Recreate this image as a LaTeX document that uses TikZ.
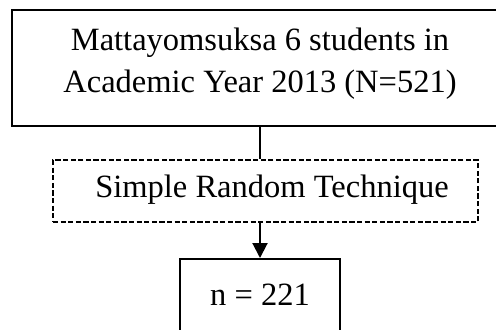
\documentclass[tikz,border=0pt]{standalone}
\usepackage{fontspec}
\setmainfont{Liberation Serif}
\usetikzlibrary{arrows.meta}

\tikzset{
  stagebox/.style={draw, line width=1pt, inner sep=0pt, align=center,
    font=\fontsize{16.25}{21}\selectfont},
  methodbox/.style={stagebox, dash pattern=on 2.6pt off 1.2pt, line width=0.9pt},
}

\begin{document}
\begin{tikzpicture}[x=0.5pt, y=-0.5pt]
  \useasboundingbox (0,0) rectangle (496,329);
  \clip (0,0) rectangle (496,329);
  % population
  \node[stagebox, minimum width=248pt, minimum height=58pt, text depth=8pt] (pop) at (260,68)
    {Mattayomsuksa 6 students in\\Academic Year 2013 (N=521)};
  % sampling method
  \node[methodbox, minimum width=212.5pt, minimum height=31pt, text depth=5pt] (method) at (265.5,191)
    {\hspace*{6.5pt}Simple Random Technique};
  % sample
  \node[stagebox, minimum width=80pt, minimum height=36pt] (sample) at (260,295) {n = 221};
  \draw[line width=1pt] (pop.south) -- (pop.south |- method.north);
  \draw[line width=1pt, -{Triangle[width=7.5pt,length=7.5pt]}] (sample.north |- method.south) -- (sample.north);
\end{tikzpicture}
\end{document}
